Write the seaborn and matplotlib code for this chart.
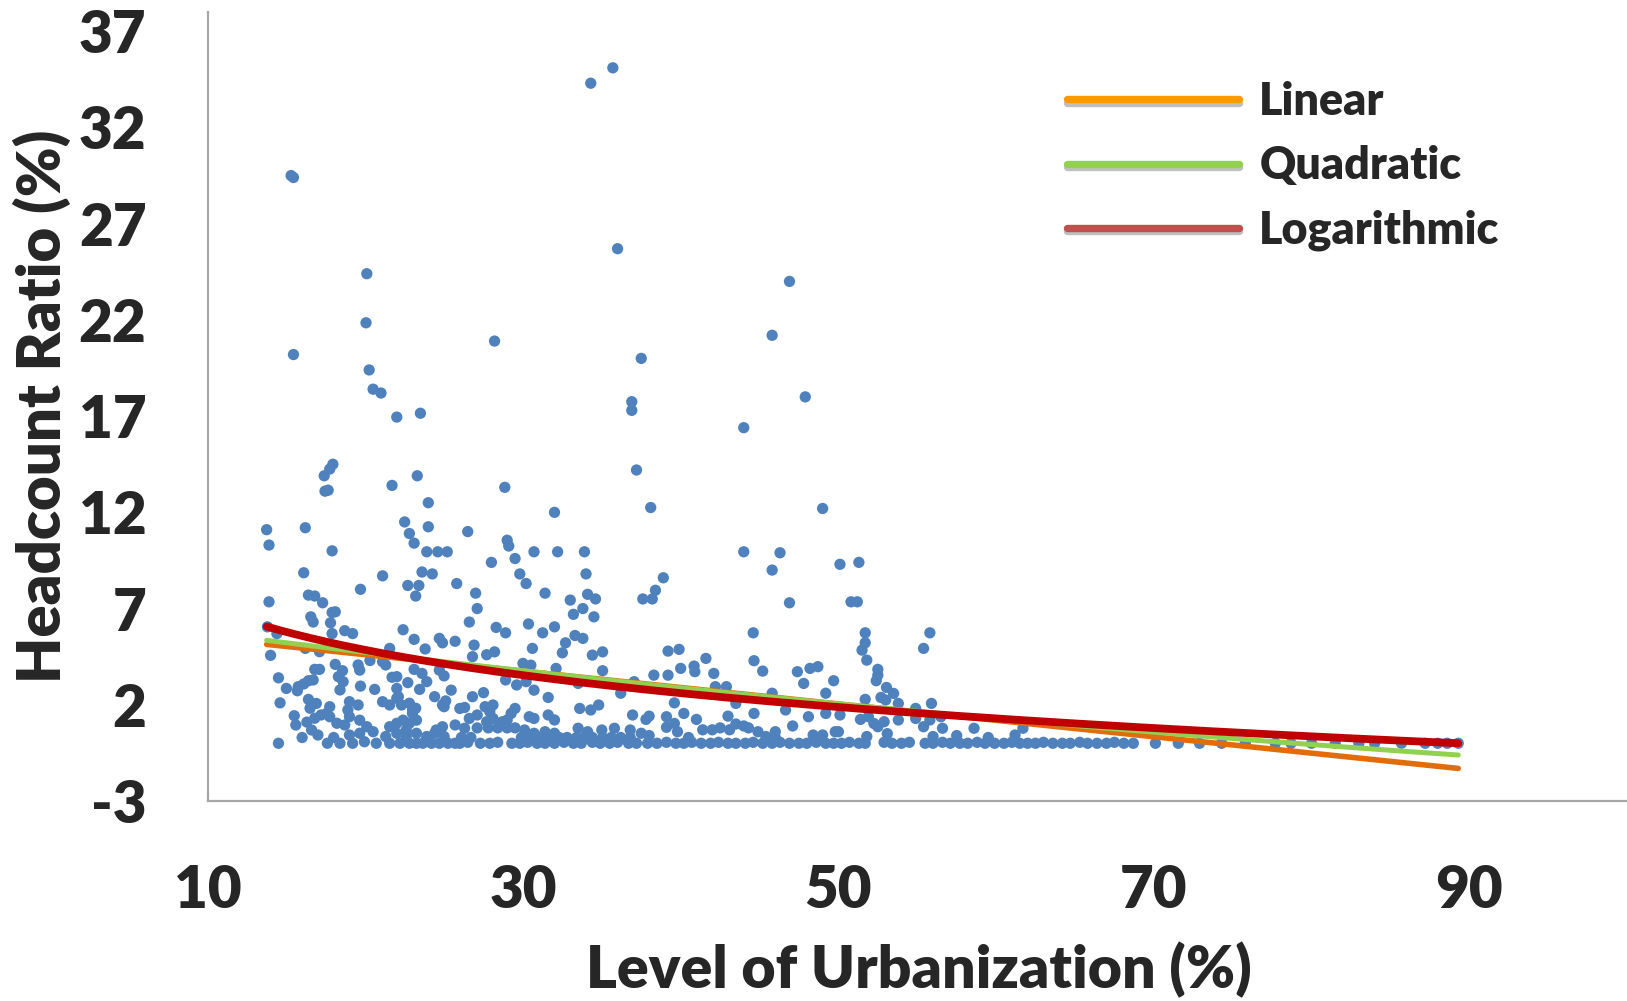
import numpy as np
import pandas as pd
import matplotlib
matplotlib.use("Agg")
import matplotlib.pyplot as plt
import matplotlib.patheffects as pe
from matplotlib.lines import Line2D
import seaborn as sns

# ---- Observations: level of urbanization (%) vs headcount ratio (%) ----
# High-poverty districts (headcount above ~6.5 %)
urb_high = [35.7, 34.3, 15.3, 15.45, 36.0, 20.1, 46.9, 20.05, 28.2, 45.8,
            15.45, 37.5, 20.25, 20.5, 21.0, 36.9, 47.9, 36.9, 22.0, 23.5,
            44.0, 17.95, 17.75, 17.4, 23.3, 37.2, 17.45, 17.65, 21.7, 28.85,
            38.1, 49.0, 32.0, 24.0, 13.75, 16.2, 22.5, 22.8, 23.1, 24.0,
            26.5, 13.9, 29.0, 29.1, 29.5, 30.7, 32.2, 33.9, 23.9, 24.6,
            25.2, 17.9, 46.3, 44.0, 50.1, 51.3, 28.0, 16.1, 23.6, 24.25,
            29.8, 34.0, 45.8, 38.9, 21.1, 19.7, 30.2, 25.8, 22.7, 23.4,
            23.2, 27.0, 31.4, 16.4, 16.8, 33.0, 34.1, 34.6, 37.6, 38.2,
            38.4, 46.9, 50.8, 51.2, 17.3, 13.9, 33.8, 27.1, 33.2, 34.5]
hcr_high = [35.1, 34.3, 29.5, 29.4, 25.7, 24.4, 24.0, 21.85, 20.9, 21.2,
            20.2, 20.0, 19.4, 18.4, 18.2, 17.75, 18.0, 17.3, 16.95, 17.15,
            16.4, 14.5, 14.25, 13.9, 13.9, 14.2, 13.1, 13.15, 13.4, 13.3,
            12.25, 12.2, 12.0, 12.5, 11.1, 11.2, 11.5, 10.9, 10.4, 11.25,
            11.0, 10.3, 10.55, 10.25, 9.6, 9.95, 9.95, 9.95, 9.95, 9.95,
            9.95, 10.0, 9.9, 9.95, 9.3, 9.4, 9.4, 8.86, 8.9, 8.8,
            8.8, 8.8, 9.0, 8.6, 8.7, 8.0, 8.3, 8.3, 8.2, 8.2,
            7.65, 7.8, 7.8, 7.7, 7.65, 7.44, 7.74, 7.5, 7.5, 7.5,
            7.95, 7.3, 7.35, 7.35, 7.3, 7.35, 7.0, 7.0, 6.7, 6.57]

# Urbanization below ~25.5 %
urb_a = [13.8, 14.4, 14.0, 14.5, 15.0, 15.7, 14.6, 14.5, 15.5, 15.6,
         16.55, 16.7, 17.9, 18.1, 17.8, 17.9, 18.7, 19.2, 22.4, 23.1,
         24.7, 24.9, 23.8, 16.2, 17.1, 21.55, 20.3, 21.1, 21.3, 19.55,
         19.65, 18.1, 18.56, 16.8, 17.1, 24.7, 25.0, 23.1, 23.6, 22.0,
         21.7, 18.3, 18.6, 16.4, 16.7, 16.1, 15.75, 18.4, 19.7, 20.6,
         22.0, 22.1, 22.7, 23.45, 23.9, 16.4, 16.9, 16.5, 17.75, 17.55,
         19.0, 18.9, 19.55, 21.1, 21.55, 22.0, 22.3, 22.8, 23.2, 23.0,
         25.0, 24.4, 24.9, 25.1, 25.45, 16.3, 16.8, 17.2, 17.75, 16.6,
         17.0, 18.2, 18.7, 19.0, 19.65, 20.1, 20.5, 19.0, 19.65, 18.4,
         19.2, 19.95, 20.7, 21.55, 22.0, 22.4, 22.6, 22.8, 23.25, 23.0,
         21.3, 22.0, 22.6, 23.25, 23.9, 24.4, 25.0, 21.55, 22.2, 22.8,
         23.25, 23.65, 24.2, 24.7, 25.25, 24.9, 24.5, 17.6, 16.0, 18.0]
hcr_a = [6.05, 5.7, 4.57, 3.4, 2.85, 2.73, 2.1, 0.0, 1.43, 0.95,
         6.57, 6.3, 6.8, 6.83, 6.26, 5.7, 5.85, 5.7, 5.9, 5.4,
         5.45, 5.22, 4.9, 4.93, 4.76, 4.93, 4.3, 4.24, 4.07, 4.07,
         3.8, 4.1, 3.77, 3.84, 3.84, 3.8, 3.5, 3.84, 3.63, 3.46,
         3.43, 3.46, 3.2, 3.25, 3.29, 3.08, 2.94, 2.77, 2.97, 2.8,
         2.85, 2.42, 3.15, 2.8, 3.2, 2.28, 2.07, 1.82, 1.9, 1.55,
         2.16, 1.73, 1.99, 2.16, 1.99, 2.34, 1.99, 2.08, 1.82, 1.55,
         1.9, 2.42, 1.99, 2.2, 2.76, 1.1, 1.3, 1.47, 1.38, 0.69,
         0.43, 1.04, 0.95, 1.38, 1.2, 0.86, 0.6, 0.43, 0.52, 0.0,
         0.0, 0.08, 0.0, 0.86, 1.04, 1.2, 0.69, 1.04, 1.2, 1.73,
         0.35, 0.52, 0.35, 0.52, 0.35, 0.52, 0.35, 0.0, 0.0, 0.0,
         0.0, 0.0, 0.0, 0.0, 0.0, 0.86, 0.69, 0.0, 0.3, 0.3]

# Urbanization 25.5 - 37.5 %
urb_b = [25.7, 26.9, 26.8, 27.7, 28.2, 30.6, 30.35, 31.25, 32.0, 32.7,
         32.5, 33.3, 33.8, 34.4, 35.05, 28.3, 28.9, 26.6, 30.0, 30.5,
         32.1, 35.05, 28.9, 29.6, 30.2, 30.7, 33.5, 36.2, 37.05, 26.8,
         27.5, 31.6, 26.0, 26.3, 27.6, 28.1, 27.9, 29.5, 29.25, 30.4,
         30.7, 31.6, 32.0, 33.6, 34.3, 34.8, 36.95, 26.6, 27.1, 27.7,
         28.1, 28.7, 29.0, 25.7, 26.3, 27.1, 27.8, 28.4, 29.0, 29.5,
         30.1, 30.7, 31.4, 32.0, 33.5, 34.1, 35.0, 35.8, 36.8, 37.5,
         25.7, 26.0, 26.5, 27.3, 27.9, 28.4, 29.3, 29.8, 30.3, 30.9,
         31.4, 32.0, 32.6, 33.2, 33.7, 34.4, 34.9, 35.5, 36.0, 36.7,
         37.2, 26.1, 26.7, 29.9, 30.5, 31.1, 31.8, 32.3, 32.8, 33.4,
         33.9, 34.4, 35.05, 35.6, 36.2, 36.8]
hcr_b = [5.3, 5.1, 4.5, 4.6, 4.75, 4.93, 6.2, 5.74, 6.05, 5.22,
         4.7, 5.6, 5.45, 4.58, 4.75, 6.02, 5.74, 6.3, 4.15, 4.06,
         3.89, 3.77, 3.29, 3.03, 3.2, 2.76, 3.11, 2.6, 3.2, 2.42,
         2.63, 2.38, 1.81, 1.86, 1.9, 1.99, 1.64, 1.81, 1.55, 1.38,
         1.29, 1.47, 1.21, 1.81, 1.73, 1.99, 1.47, 1.29, 1.47, 1.12,
         1.29, 1.12, 1.21, 0.95, 0.78, 0.8, 0.8, 0.8, 0.8, 0.8,
         0.69, 0.52, 0.6, 0.52, 0.78, 0.6, 0.69, 0.78, 0.69, 0.52,
         0.0, 0.0, 0.05, 0.0, 0.0, 0.05, 0.0, 0.0, 0.05, 0.0,
         0.0, 0.0, 0.05, 0.0, 0.0, 0.05, 0.0, 0.0, 0.05, 0.0,
         0.0, 0.3, 0.3, 0.3, 0.3, 0.3, 0.3, 0.3, 0.3, 0.3,
         0.3, 0.3, 0.3, 0.3, 0.3, 0.3]

# Urbanization 37.5 - 50 %
urb_c = [44.6, 39.2, 39.9, 41.6, 44.65, 45.2, 40.0, 40.85, 40.9, 42.1,
         38.3, 39.2, 47.4, 47.8, 48.2, 48.7, 49.7, 42.2, 42.9, 45.8,
         49.2, 39.6, 43.5, 46.65, 38.0, 37.8, 39.1, 40.2, 41.0, 43.0,
         44.65, 48.1, 49.2, 39.1, 39.6, 39.8, 41.4, 42.0, 42.5, 43.1,
         43.5, 44.0, 44.3, 44.9, 46.0, 47.1, 48.4, 49.0, 49.8, 38.0,
         46.0, 40.5, 45.4,
         37.9, 38.5, 39.1, 39.7, 40.2, 40.7, 41.3, 41.9, 42.4, 43.0,
         43.5, 44.1, 44.6, 45.2, 45.8, 46.3, 46.9, 47.5, 48.0, 48.6,
         49.2, 49.7]
hcr_c = [5.74, 4.79, 4.88, 4.41, 4.29, 3.75, 3.89, 4.01, 3.72, 3.63,
         3.54, 3.54, 3.72, 3.11, 3.89, 3.98, 3.25, 2.94, 2.94, 2.6,
         2.6, 2.1, 2.07, 1.73, 1.41, 1.24, 1.38, 1.55, 1.24, 1.41,
         1.55, 1.38, 1.55, 0.83, 1.03, 0.6, 0.7, 0.7, 0.8, 0.7,
         1.0, 0.9, 0.8, 0.6, 0.6, 0.9, 0.43, 0.43, 0.6, 0.4,
         0.3, 0.3, 0.35,
         0.0, 0.0, 0.05, 0.0, 0.0, 0.05, 0.0, 0.0, 0.05, 0.0,
         0.0, 0.0, 0.05, 0.0, 0.0, 0.05, 0.0, 0.0, 0.0, 0.05,
         0.0, 0.0]

# Urbanization 50 % and above
urb_d = [55.8, 55.4, 51.7, 51.7, 51.5, 51.8, 52.5, 52.5, 52.4, 53.05,
         53.5, 52.7, 53.0, 51.7, 53.8, 55.9, 54.9, 50.1, 51.4, 51.9,
         52.25, 52.9, 53.8, 54.9, 55.8, 56.5, 50.0, 51.8, 52.5, 53.1,
         55.4, 56.0, 56.6, 58.6, 61.2, 61.7, 57.5, 59.5,
         50.2, 50.7, 51.3, 51.7, 52.9, 53.4, 54.0, 54.5, 55.5, 56.0,
         56.6, 57.1, 57.7, 58.2, 58.8, 59.3, 59.9, 60.5, 61.0, 61.5,
         62.0, 62.5, 63.0, 63.6, 64.2, 64.7, 65.3, 65.8, 66.4, 67.0,
         67.5, 68.1, 68.7, 70.1, 71.55, 72.9, 74.3, 75.8, 77.7, 78.7,
         80.0, 81.5, 83.0, 84.0, 85.7, 87.2, 88.0, 88.6, 89.3]
hcr_d = [5.74, 4.93, 5.74, 5.22, 4.84, 4.32, 3.84, 3.54, 3.25, 2.9,
         2.59, 2.38, 2.25, 2.28, 2.07, 2.07, 1.81, 1.47, 1.24, 1.38,
         1.03, 1.12, 1.21, 1.29, 1.21, 1.38, 0.6, 0.35, 0.86, 0.5,
         0.86, 0.35, 0.78, 0.78, 0.43, 0.78, 0.4, 0.3,
         0.0, 0.05, 0.0, 0.0, 0.05, 0.0, 0.0, 0.05, 0.0, 0.0,
         0.05, 0.0, 0.0, 0.0, 0.05, 0.0, 0.0, 0.0, 0.05, 0.0,
         0.0, 0.0, 0.05, 0.0, 0.0, 0.0, 0.05, 0.0, 0.0, 0.0,
         0.05, 0.0, 0.0, 0.0, 0.0, 0.0, 0.0, 0.0, 0.0, 0.0,
         0.0, 0.0, 0.0, 0.0, 0.0, 0.0, 0.0, 0.0, 0.0]

# ---- Fitted trend lines ----
linear_coef = (6.31, -0.0853)                    # a + b*x
quadratic_coef = (6.812, -0.11067, 0.0003086)    # a + b*x + c*x^2
log_coef = (14.56, -3.241)                       # a + b*ln(x)

trend_labels = ["Linear", "Quadratic", "Logarithmic"]
line_colors = ["#E36C0A", "#92D050", "#C00000"]
legend_colors = ["#FF9900", "#92D050", "#C0504D"]

x_ticks = [10, 30, 50, 70, 90]
y_ticks = [-3, 2, 7, 12, 17, 22, 27, 32, 37]

df = pd.DataFrame({
    "urbanization": urb_high + urb_a + urb_b + urb_c + urb_d,
    "headcount": hcr_high + hcr_a + hcr_b + hcr_c + hcr_d,
})

sns.set_theme(style="white")
plt.rcParams["font.family"] = ["Lato", "DejaVu Sans"]
WEIGHT = "heavy"

fig = plt.figure(figsize=(16.27, 10.01), dpi=100)
ax = fig.add_axes([207.5 / 1627, 1 - 801 / 1001, 1 - 207.5 / 1627, 789 / 1001])

sns.scatterplot(data=df, x="urbanization", y="headcount", ax=ax,
                color="#4F81BD", s=66, linewidth=0, edgecolor="none", zorder=2)

xs = np.linspace(df["urbanization"].min(), df["urbanization"].max(), 300)
fits = [
    linear_coef[0] + linear_coef[1] * xs,
    quadratic_coef[0] + quadratic_coef[1] * xs + quadratic_coef[2] * xs ** 2,
    log_coef[0] + log_coef[1] * np.log(xs),
]
widths = [4.0, 3.6, 5.6]
for fit, col, lw in zip(fits, line_colors, widths):
    sns.lineplot(x=xs, y=fit, ax=ax, color=col, linewidth=lw,
                 solid_capstyle="round", zorder=3, sort=False)

ax.set_xlim(10, 100)
ax.set_ylim(-3, 38)
ax.set_xticks(x_ticks)
ax.set_yticks(y_ticks)
ax.set_xticklabels([str(t) for t in x_ticks])
ax.set_yticklabels([str(t) for t in y_ticks])
ax.tick_params(axis="both", length=0, labelsize=42)
ax.tick_params(axis="y", pad=44)
ax.tick_params(axis="x", pad=45)
for lab in ax.get_xticklabels() + ax.get_yticklabels():
    lab.set_fontweight(WEIGHT)

for side in ["top", "right"]:
    ax.spines[side].set_visible(False)
for side in ["left", "bottom"]:
    ax.spines[side].set_color("#A6A6A6")
    ax.spines[side].set_linewidth(1.6)

ax.set_xlabel("Level of Urbanization (%)", fontsize=42.5, fontweight=WEIGHT)
ax.set_ylabel("Headcount Ratio (%)", fontsize=43, fontweight=WEIGHT)
ax.xaxis.set_label_coords(0.501, -0.178)
ax.yaxis.set_label_coords(-0.0965, 0.5)

shadow = [pe.SimpleLineShadow(offset=(0, -2.5), shadow_color="black", alpha=0.25),
          pe.Normal()]
handles = [Line2D([], [], color=c, linewidth=5.3, path_effects=shadow)
           for c in legend_colors]
ax.legend(handles, trend_labels, loc="upper left",
          bbox_to_anchor=(1067 / 1627, 1 - 81 / 1001),
          bbox_transform=fig.transFigure, frameon=False,
          borderpad=0, borderaxespad=0, handlelength=3.85,
          handletextpad=0.45, labelspacing=0.52,
          prop={"size": 32.2, "weight": WEIGHT})

fig.savefig("out.png", dpi=100)
